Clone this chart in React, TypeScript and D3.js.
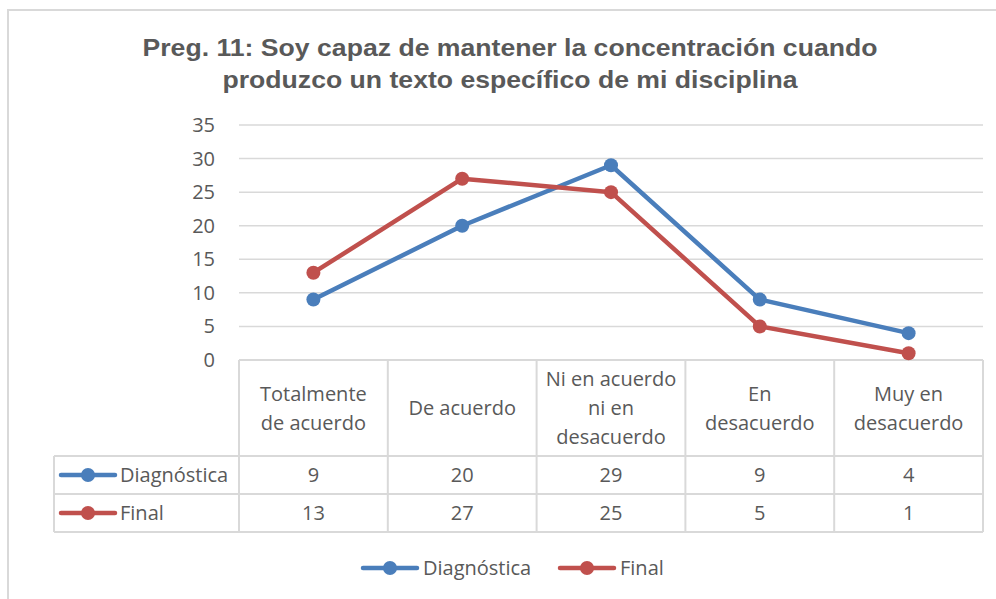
import * as d3 from 'd3';

const categories = [
  ['Totalmente', 'de acuerdo'],
  ['De acuerdo'],
  ['Ni en acuerdo', 'ni en', 'desacuerdo'],
  ['En', 'desacuerdo'],
  ['Muy en', 'desacuerdo'],
];
const seriesNames = ['Diagnóstica', 'Final'];
const diagnostica = [9, 20, 29, 9, 4];
const final = [13, 27, 25, 5, 1];
const yTicks = [0, 5, 10, 15, 20, 25, 30, 35];

const colors = ['#4a7ebb', '#c0504d'];
const textColor = '#595959';
const gridColor = '#d9d9d9';
const font = '"Open Sans", Lato, sans-serif';
const fs = 20;

export default function App() {
  const w = 996;
  const h = 599;
  const series = [diagnostica, final];

  const x = d3.scaleBand<number>()
    .domain(d3.range(categories.length))
    .range([239, 983]);
  const y = d3.scaleLinear()
    .domain([0, 35])
    .range([360, 125]);
  const line = d3.line<number>()
    .x((d, i) => x(i)! + x.bandwidth() / 2)
    .y(d => y(d));

  // table rows
  const headerTop = 360;
  const headerBottom = 456;
  const rowH = 38;
  const tableLeft = 54;
  const tableRight = x.range()[1];

  const key = (cx: number, cy: number, color: string) => (
    <g>
      <line x1={cx - 27} x2={cx + 27} y1={cy} y2={cy} stroke={color} strokeWidth={4.5} strokeLinecap="round" />
      <circle cx={cx} cy={cy} r={7} fill={color} />
    </g>
  );

  return (
    <svg width={w} height={h} style={{ position: 'absolute', left: 0, top: 0, background: '#fff' }}>
      <rect x={8} y={10} width={w} height={h} fill="none" stroke={gridColor} strokeWidth={2} />

      <text x={510} y={56} textAnchor="middle" fontFamily='"Liberation Sans", Arial, sans-serif'
        fontWeight="bold" fontSize={24} fill={textColor} textLength={735} lengthAdjust="spacingAndGlyphs">
        Preg. 11: Soy capaz de mantener la concentración cuando
      </text>
      <text x={510} y={88} textAnchor="middle" fontFamily='"Liberation Sans", Arial, sans-serif'
        fontWeight="bold" fontSize={24} fill={textColor} textLength={575} lengthAdjust="spacingAndGlyphs">
        produzco un texto específico de mi disciplina
      </text>

      {yTicks.map(t => (
        <g key={t}>
          {t > 0 && <line x1={x.range()[0]} x2={tableRight} y1={y(t)} y2={y(t)} stroke={gridColor} strokeWidth={1.5} />}
          <text x={215} y={y(t)} dy="0.35em" textAnchor="end" fontFamily={font} fontSize={fs} fill={textColor}>{t}</text>
        </g>
      ))}

      {/* data table */}
      <g stroke={gridColor} strokeWidth={2} fill="none">
        <line x1={x.range()[0]} x2={tableRight} y1={headerTop} y2={headerTop} />
        <line x1={tableLeft} x2={tableRight} y1={headerBottom} y2={headerBottom} />
        <line x1={tableLeft} x2={tableRight} y1={headerBottom + rowH} y2={headerBottom + rowH} />
        <line x1={tableLeft} x2={tableRight} y1={headerBottom + 2 * rowH} y2={headerBottom + 2 * rowH} />
        <line x1={tableLeft} x2={tableLeft} y1={headerBottom} y2={headerBottom + 2 * rowH} />
        {d3.range(categories.length + 1).map(i => {
          const xx = i < categories.length ? x(i)! : tableRight;
          return <line key={i} x1={xx} x2={xx} y1={headerTop} y2={headerBottom + 2 * rowH} />;
        })}
      </g>

      {categories.map((lines, i) => (
        <text key={i} textAnchor="middle" fontFamily={font} fontSize={fs} fill={textColor}>
          {lines.map((l, j) => (
            <tspan key={j} x={x(i)! + x.bandwidth() / 2}
              y={(headerTop + headerBottom) / 2 + (j - (lines.length - 1) / 2) * 29} dy="0.35em">{l}</tspan>
          ))}
        </text>
      ))}

      {series.map((vals, s) => {
        const cy = headerBottom + rowH * s + rowH / 2;
        return (
          <g key={s}>
            {key(88, cy, colors[s])}
            <text x={120} y={cy} dy="0.35em" fontFamily={font} fontSize={fs} fill={textColor}>{seriesNames[s]}</text>
            {vals.map((v, i) => (
              <text key={i} x={x(i)! + x.bandwidth() / 2} y={cy} dy="0.35em" textAnchor="middle"
                fontFamily={font} fontSize={fs} fill={textColor}>{v}</text>
            ))}
          </g>
        );
      })}

      {/* lines */}
      {series.map((vals, s) => (
        <g key={s}>
          <path d={line(vals)!} fill="none" stroke={colors[s]} strokeWidth={4.5} strokeLinejoin="round" strokeLinecap="round" />
          {vals.map((v, i) => (
            <circle key={i} cx={x(i)! + x.bandwidth() / 2} cy={y(v)} r={7} fill={colors[s]} />
          ))}
        </g>
      ))}

      {/* legend */}
      {key(390, 568, colors[0])}
      <text x={423} y={568} dy="0.35em" fontFamily={font} fontSize={fs} fill={textColor}>{seriesNames[0]}</text>
      {key(587, 568, colors[1])}
      <text x={620} y={568} dy="0.35em" fontFamily={font} fontSize={fs} fill={textColor}>{seriesNames[1]}</text>
    </svg>
  );
}
